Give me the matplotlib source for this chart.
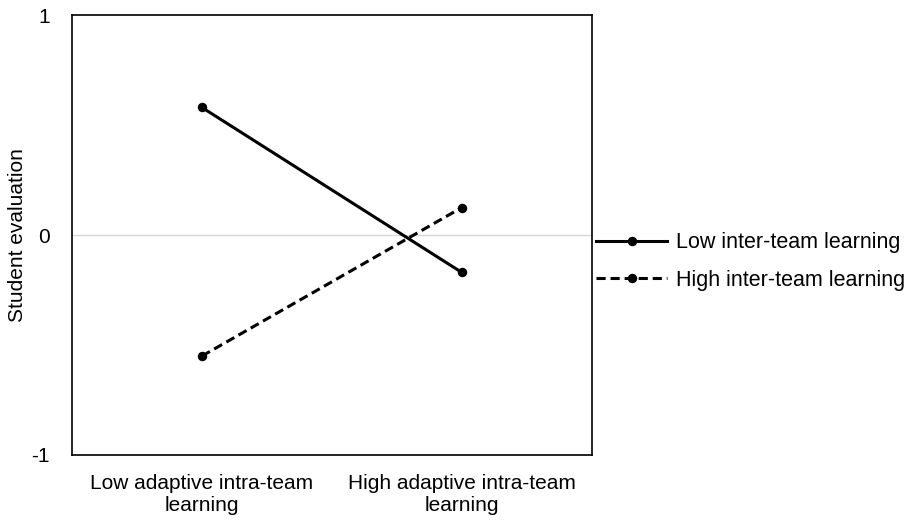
import matplotlib.pyplot as plt

plt.rcParams["font.family"] = ["Liberation Sans", "DejaVu Sans"]

# Interaction plot data
categories = ["Low adaptive intra-team\nlearning", "High adaptive intra-team\nlearning"]
low_inter = [0.58, -0.17]
high_inter = [-0.55, 0.125]
series_labels = ["Low inter-team learning", "High inter-team learning"]

fig = plt.figure(figsize=(9.15, 5.2), dpi=100)
ax = fig.add_axes([0.0787, 0.125, 0.568, 0.846])

x = range(len(categories))
ax.axhline(0, color="#d9d9d9", lw=1, zorder=1)
ax.plot(x, low_inter, color="black", lw=2.2, marker="o", ms=5.8,
        label=series_labels[0], zorder=3)
ax.plot(x, high_inter, color="black", lw=2.2, ls=(0, (3, 1.6)), marker="o", ms=5.8,
        label=series_labels[1], zorder=3)

ax.set_xlim(-0.5, 1.5)
ax.set_ylim(-1, 1)
ax.set_yticks([-1, 0, 1])
ax.set_yticklabels(["-1", "0", "1"])
ax.set_xticks(list(x))
ax.set_xticklabels(categories)
ax.tick_params(length=0, labelsize=15, pad=14)
ax.tick_params(axis="y", pad=16)
ax.set_ylabel("Student evaluation", fontsize=15)
ax.yaxis.set_label_coords(-0.087, 0.5)
for s in ax.spines.values():
    s.set_linewidth(1.2)

ax.legend(loc="center left", bbox_to_anchor=(1.0, 0.44), frameon=False,
          fontsize=15.5, handlelength=3.3, handletextpad=0.4, labelspacing=0.75,
          borderaxespad=0, borderpad=0.2)

fig.savefig("out.png", dpi=100)
